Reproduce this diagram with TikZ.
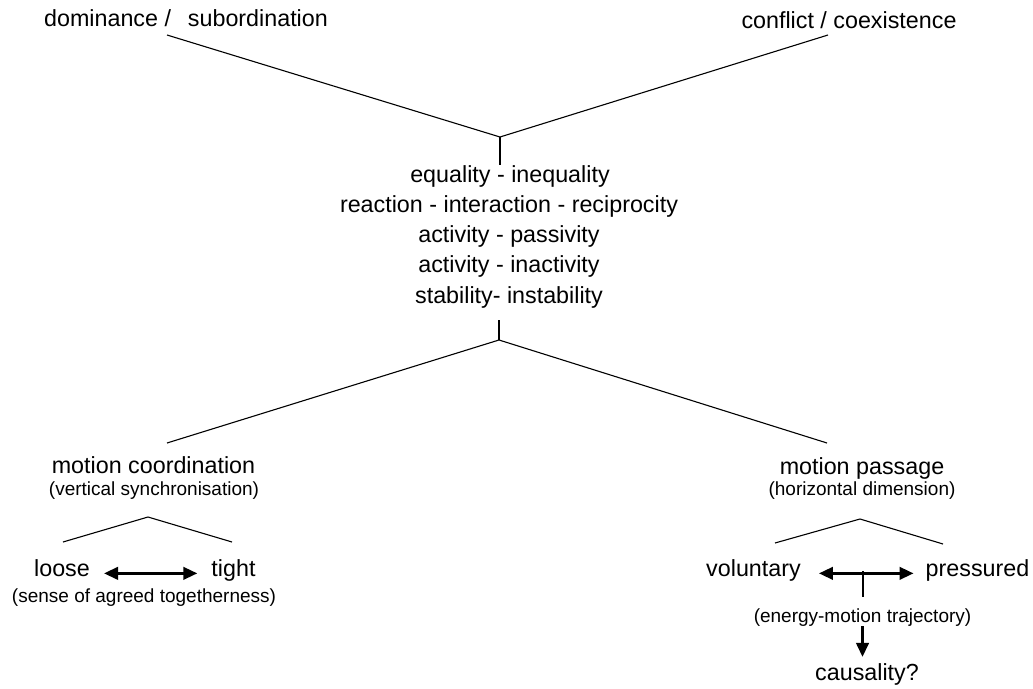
\documentclass[tikz,border=0pt]{standalone}
\usepackage{fontspec}
\setmainfont{Liberation Sans}
\usetikzlibrary{arrows.meta}

\tikzset{
  lbl/.style={anchor=base, inner sep=0pt, font=\fontsize{23.3}{28}\selectfont},
  sublbl/.style={anchor=base, inner sep=0pt, font=\fontsize{19}{23}\selectfont},
  branch/.style={line width=1.1pt},
  dblarrow/.style={line width=2.6pt, {Triangle[length=14pt,width=12.5pt]}-{Triangle[length=14pt,width=12.5pt]}},
  onearrow/.style={line width=2.6pt, -{Triangle[length=14pt,width=12.5pt]}},
}

\begin{document}
\begin{tikzpicture}[x=1pt, y=-1pt]
\useasboundingbox (0,0) rectangle (1033,688);

\def\xm{509}
\def\ya{182}
\def\dy{30.3}

% top pair
\node[lbl] (dom) at (186, 27) {dominance /\hspace{0.45em} subordination};
\node[lbl] (conf) at (849, 28) {conflict / coexistence};

\coordinate (dl) at (167, 35);
\coordinate (cr) at (828, 35);
\coordinate (jtop) at (500, 137);
\draw[branch] (dl) -- (jtop) -- (cr);

% middle block
\node[lbl] (eq) at (\xm + 1, \ya) {equality - inequality};
\node[lbl] (react) at (\xm, \ya + \dy) {reaction - interaction - reciprocity};
\node[lbl] (actp) at (\xm, \ya + 2*\dy) {activity - passivity};
\node[lbl] (acti) at (\xm, \ya + 3*\dy) {activity - inactivity};
\node[lbl] (stab) at (\xm, \ya + 4*\dy) {stability- instability};
\draw[branch] (jtop) -- (jtop |- eq.north);

\coordinate (jbot) at (499, 340);
\coordinate (jbottick) at (499, 320);
\coordinate (mcend) at (167, 443);
\coordinate (mpend) at (827, 443);
\draw[branch] (jbottick) -- (jbot);
\draw[branch] (mcend) -- (jbot) -- (mpend);

% left branch
\node[lbl] (mcoord) at (153.5, 473) {motion coordination};
\node[sublbl] (vsync) at (154, 495) {(vertical synchronisation)};
\draw[branch] (63, 542) -- (148, 517) -- (232, 542);
\node[lbl] (loose) at (62, 576) {loose};
\node[lbl] (tight) at (233.5, 576) {tight};
\draw[dblarrow, shorten <=14pt, shorten >=14pt] (loose.mid east) -- (tight.mid west);
\node[sublbl] (sense) at (144, 602) {(sense of agreed togetherness)};

% right branch
\node[lbl] (mpass) at (862, 474) {motion passage};
\node[sublbl] (hdim) at (862, 495) {(horizontal dimension)};
\draw[branch] (775, 543) -- (860, 519) -- (943, 544);
\node[lbl] (volun) at (753.5, 576) {voluntary};
\node[lbl] (press) at (977.5, 576) {pressured};
\draw[dblarrow, shorten <=18pt, shorten >=12pt] (volun.mid east) -- (press.mid west);
\coordinate (vp) at (863, 571);
\coordinate (vpend) at (863, 597);
\draw[branch] (vp) -- (vpend);
\node[sublbl] (energy) at (862.5, 622) {(energy-motion trajectory)};
\node[lbl] (caus) at (867, 680) {causality?};
\draw[onearrow, shorten >=6pt] (energy.south) -- (energy.south |- caus.north);
\end{tikzpicture}
\end{document}
